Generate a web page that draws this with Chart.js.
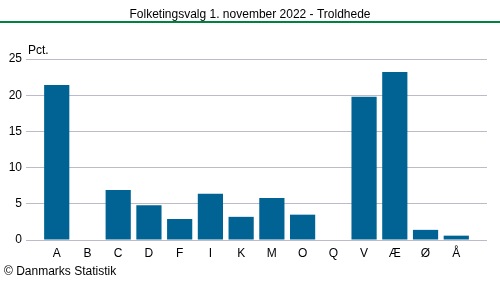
<!DOCTYPE html>
<html>
<head>
<meta charset="utf-8">
<script src="https://cdn.jsdelivr.net/npm/chart.js@4/dist/chart.umd.min.js"></script>
<style>
  html, body { margin: 0; padding: 0; background: #fff; }
  #wrap { width: 500px; height: 282px; position: relative; }
</style>
</head>
<body>
<div id="wrap"><canvas id="chart" width="500" height="282"></canvas></div>
<script>
// ================== Data ==================
const PARTIER = ["A","B","C","D","F","I","K","M","O","Q","V","Æ","Ø","Å"];
const PCT = [21.4, 0, 6.9, 4.8, 2.9, 6.4, 3.2, 5.8, 3.5, 0, 19.8, 23.2, 1.4, 0.6];
const Y_TICKS = [0, 5, 10, 15, 20, 25];

const TITEL = "Folketingsvalg 1. november 2022 - Troldhede";
const ENHED = "Pct.";
const KILDE = "© Danmarks Statistik";
const FONT = "Liberation Sans, Arial, sans-serif";

// punkter på en lineær x-akse (giver ekstra luft i begge sider)
const punkter = PCT.map((v, i) => ({ x: i, y: v }));

// ================== Tekster og streg ==================
const tekster = {
  id: "tekster",
  afterDraw(chart) {
    const ctx = chart.ctx;
    ctx.save();
    ctx.fillStyle = "#000";
    ctx.font = "12px " + FONT;
    ctx.textAlign = "center";
    ctx.textBaseline = "alphabetic";
    ctx.fillText(TITEL, 250, 18);

    ctx.strokeStyle = "#00843d";
    ctx.lineWidth = 2;
    ctx.beginPath();
    ctx.moveTo(0, 22);
    ctx.lineTo(500, 22);
    ctx.stroke();

    ctx.textAlign = "left";
    ctx.fillText(ENHED, 28, 54);
    ctx.fillText(KILDE, 4, 275);
    ctx.restore();
  }
};

new Chart(document.getElementById("chart"), {
  type: "bar",
  data: {
    datasets: [{
      data: punkter,
      backgroundColor: "#006394",
      barPercentage: 0.82,
      categoryPercentage: 1
    }]
  },
  options: {
    responsive: false,
    animation: false,
    layout: { padding: { top: 59, right: 13, left: 0, bottom: 0 } },
    plugins: { legend: { display: false }, tooltip: { enabled: false } },
    scales: {
      x: {
        type: "linear",
        offset: false,
        min: -1,
        max: PARTIER.length,
        grid: { display: false, drawTicks: false },
        border: { display: false },
        afterBuildTicks(axis) {
          axis.ticks = PARTIER.map((p, i) => ({ value: i }));
        },
        afterFit(axis) { axis.height = 42; },
        ticks: {
          autoSkip: false,
          maxRotation: 0,
          padding: 6,
          color: "#000",
          font: { family: FONT, size: 12 },
          callback: v => PARTIER[v] ?? ""
        }
      },
      y: {
        min: 0,
        max: 25,
        afterBuildTicks(axis) {
          axis.ticks = Y_TICKS.map(v => ({ value: v }));
        },
        afterFit(axis) { axis.width = 26; },
        grid: { color: "#bcbcc8", lineWidth: 1, drawTicks: false },
        border: { display: false },
        ticks: {
          padding: 4,
          color: "#000",
          font: { family: FONT, size: 12 }
        }
      }
    }
  },
  plugins: [tekster]
});
</script>
</body>
</html>
